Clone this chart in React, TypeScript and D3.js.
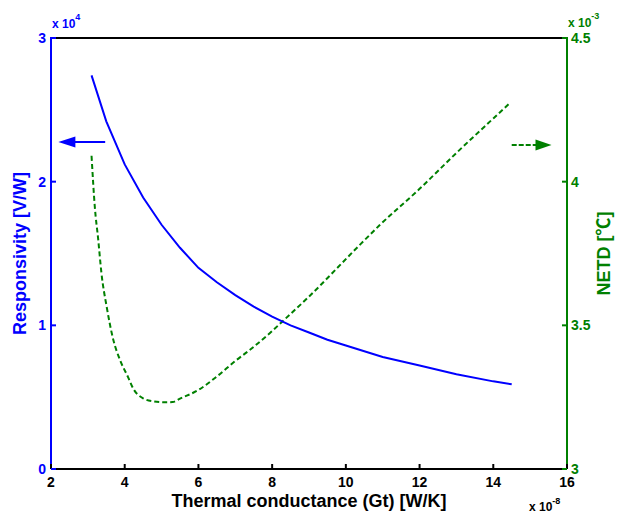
import React from "react";
import * as d3 from "d3";

const xTicks = [2, 4, 6, 8, 10, 12, 14, 16];
const leftTicks = [0, 1, 2, 3];
const rightTicks = [3, 3.5, 4, 4.5];
const rightTickLabels = ["3", "3.5", "4", "4.5"];

// Responsivity (x 1e4 V/W) vs thermal conductance (x 1e-8 W/K)
const respX = [3.1, 3.5, 4.0, 4.5, 5.0, 5.5, 6.0, 6.5, 7.0, 7.5, 8.0, 8.5, 9.0, 9.5, 10, 11, 12, 13, 14, 14.5];
const respY = [2.74, 2.42, 2.12, 1.89, 1.70, 1.54, 1.40, 1.30, 1.21, 1.13, 1.06, 1.00, 0.95, 0.90, 0.86, 0.78, 0.72, 0.66, 0.61, 0.59];

// NETD (x 1e-3 C)
const netdX = [3.1, 3.19, 3.28, 3.37, 3.51, 3.69, 3.87, 4.09, 4.23, 4.5, 4.8, 5.1, 5.3, 5.5, 6.0, 6.5, 7.0, 7.39, 8.0, 8.25, 9.0, 10.24, 10.92, 12, 13, 14, 14.47];
const netdY = [4.09, 3.91, 3.80, 3.68, 3.565, 3.45, 3.38, 3.32, 3.28, 3.246, 3.235, 3.232, 3.233, 3.245, 3.275, 3.322, 3.376, 3.414, 3.48, 3.51, 3.60, 3.762, 3.849, 3.975, 4.10, 4.22, 4.276];

// arrows (data coords)
const blueArrow = { x0: 3.47, x1: 2.2, y: 2.276 };
const greenArrow = { x0: 14.5, x1: 15.58, y: 4.128 };

const BLUE = "#0000ff";
const GREEN = "#008000";
const FONT = "'Liberation Sans', Arial, 'Noto Sans CJK SC', sans-serif";

export default function App() {
  const L = 51, R = 567, T = 38, B = 469;
  const x = d3.scaleLinear().domain([2, 16]).range([L, R]);
  const yL = d3.scaleLinear().domain([0, 3]).range([B, T]);
  const yR = d3.scaleLinear().domain([3, 4.5]).range([B, T]);

  const blueLine = d3
    .line<number>()
    .x((d, i) => x(respX[i]))
    .y((d) => yL(d))
    .curve(d3.curveLinear)(respY);
  const greenLine = d3
    .line<number>()
    .x((d, i) => x(netdX[i]))
    .y((d) => yR(d))
    .curve(d3.curveMonotoneX)(netdY);

  const tl = 5;
  const ba = { x0: x(blueArrow.x0), x1: x(blueArrow.x1), y: yL(blueArrow.y) };
  const ga = { x0: x(greenArrow.x0), x1: x(greenArrow.x1), y: yR(greenArrow.y) };

  return (
    <svg
      width={624}
      height={513}
      style={{ position: "absolute", left: 0, top: 0, background: "#fff" }}
      fontFamily={FONT}
      fontWeight="bold"
    >
      <rect width={624} height={513} fill="#fff" />
      {/* curves */}
      <path d={greenLine || ""} fill="none" stroke={GREEN} strokeWidth={2} strokeDasharray="5,3" />
      <path d={blueLine || ""} fill="none" stroke={BLUE} strokeWidth={2} />

      {/* arrows */}
      <line x1={ba.x0} x2={ba.x1 + 12} y1={ba.y} y2={ba.y} stroke={BLUE} strokeWidth={2} />
      <polygon points={`${ba.x1},${ba.y} ${ba.x1 + 17},${ba.y - 5.5} ${ba.x1 + 17},${ba.y + 5.5}`} fill={BLUE} />
      <line x1={ga.x0} x2={ga.x1 - 12} y1={ga.y} y2={ga.y} stroke={GREEN} strokeWidth={2} strokeDasharray="5,2" />
      <polygon points={`${ga.x1},${ga.y} ${ga.x1 - 16},${ga.y - 5.5} ${ga.x1 - 16},${ga.y + 5.5}`} fill={GREEN} />

      {/* axes lines */}
      <line x1={L} x2={R} y1={T} y2={T} stroke="#000" strokeWidth={2} />
      <line x1={L} x2={R} y1={B} y2={B} stroke="#000" strokeWidth={2} />
      <line x1={L} x2={L} y1={T - 1} y2={B} stroke={BLUE} strokeWidth={2} />
      <line x1={R} x2={R} y1={T - 1} y2={B} stroke={GREEN} strokeWidth={2} />

      {/* x ticks */}
      {xTicks.map((t) => (
        <g key={"x" + t}>
          <line x1={x(t)} x2={x(t)} y1={B} y2={B - tl} stroke="#000" strokeWidth={2} />
          <text x={x(t)} y={487} textAnchor="middle" fontSize={14} fill="#000">
            {t}
          </text>
        </g>
      ))}
      {/* left ticks */}
      {leftTicks.map((t) => (
        <g key={"l" + t}>
          <line x1={L} x2={L + tl} y1={yL(t)} y2={yL(t)} stroke={BLUE} strokeWidth={2} />
          <text x={L - 5} y={yL(t) + 5} textAnchor="end" fontSize={14} fill={BLUE}>
            {t}
          </text>
        </g>
      ))}
      {/* right ticks */}
      {rightTicks.map((t, i) => (
        <g key={"r" + t}>
          <line x1={R} x2={R - tl} y1={yR(t)} y2={yR(t)} stroke={GREEN} strokeWidth={2} />
          <text x={R + 4} y={yR(t) + 5} textAnchor="start" fontSize={14} fill={GREEN}>
            {rightTickLabels[i]}
          </text>
        </g>
      ))}

      {/* exponent labels */}
      <text x={L + 1} y={28} fontSize={12} fill={BLUE}>
        x 10<tspan dy={-8} fontSize={9}>4</tspan>
      </text>
      <text x={R + 1} y={27} fontSize={12} fill={GREEN}>
        x 10<tspan dy={-8} fontSize={9}>-3</tspan>
      </text>
      <text x={529} y={511} fontSize={12} fill="#000">
        x 10<tspan dy={-7} fontSize={9}>-8</tspan>
      </text>

      {/* axis titles */}
      <text x={(L + R) / 2} y={507} textAnchor="middle" fontSize={18} fill="#000">
        Thermal conductance (Gt) [W/K]
      </text>
      <text
        transform={`translate(26,${(T + B) / 2}) rotate(-90)`}
        textAnchor="middle"
        fontSize={18}
        fill={BLUE}
      >
        Responsivity [V/W]
      </text>
      <text
        transform={`translate(610,${(T + B) / 2}) rotate(-90)`}
        textAnchor="middle"
        fontSize={18}
        fill={GREEN}
      >
        NETD [℃]
      </text>
    </svg>
  );
}
